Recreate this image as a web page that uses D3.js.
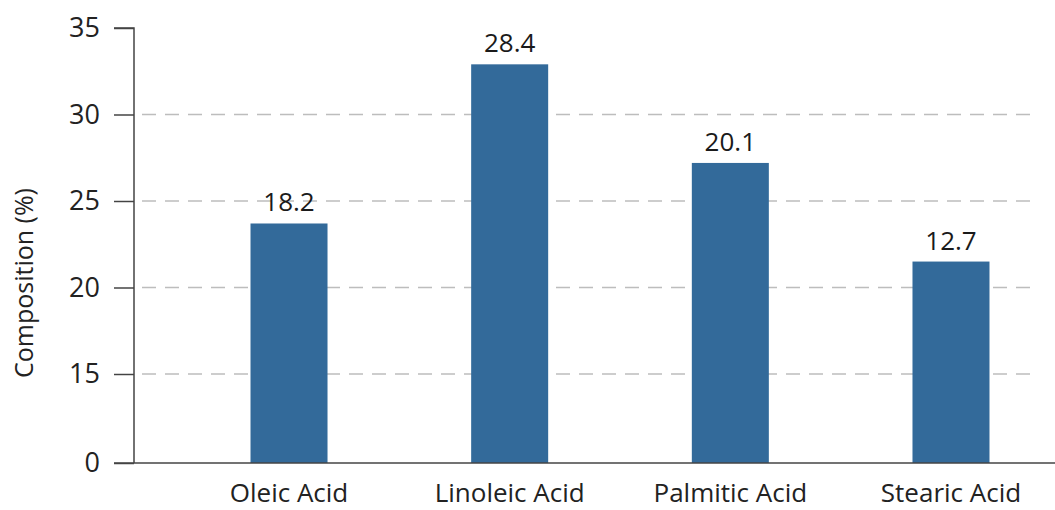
<!DOCTYPE html>
<html><head><meta charset="utf-8">
<script src="https://cdn.jsdelivr.net/npm/d3@7"></script>
<style>body{margin:0;background:#fff}svg{display:block}text{font-family:"Open Sans",sans-serif}</style>
</head><body><svg id="c" width="1055" height="510"></svg>
<script>
const categories = ["Oleic Acid", "Linoleic Acid", "Palmitic Acid", "Stearic Acid"];
const barHeights = [23.7, 32.9, 27.2, 21.5];   // bar heights as drawn against the axis
const valueLabels = ["18.2", "28.4", "20.1", "12.7"];
const yTicks = [0, 15, 20, 25, 30, 35];
const gridTicks = [15, 20, 25, 30];

const svg = d3.select("#c");
const y = d3.scaleLinear().domain([0, 15, 35]).range([463, 374, 28]);
const x = d3.scaleBand().domain(categories).range([134, 1106]).paddingInner(0.651).paddingOuter(0.528);

// gridlines
svg.append("g").selectAll("line").data(gridTicks).join("line")
  .attr("x1", 142).attr("x2", 1030)
  .attr("y1", d => y(d)).attr("y2", d => y(d))
  .attr("stroke", "#bdbdbd").attr("stroke-width", 1.3).attr("stroke-dasharray", "14,9");

// bars
svg.append("g").selectAll("rect").data(categories).join("rect")
  .attr("x", d => x(d)).attr("width", x.bandwidth())
  .attr("y", (d, i) => y(barHeights[i]))
  .attr("height", (d, i) => y(0) - y(barHeights[i]))
  .attr("fill", "#336a9a");

// value labels
svg.append("g").selectAll("text").data(categories).join("text")
  .attr("x", d => x(d) + x.bandwidth() / 2)
  .attr("y", (d, i) => y(barHeights[i]) - 12)
  .attr("text-anchor", "middle").attr("font-size", 26).attr("fill", "#1a1a1a")
  .text((d, i) => valueLabels[i]);

// y axis
const yAxis = svg.append("g").attr("transform", "translate(134,0)")
  .call(d3.axisLeft(y).tickValues(yTicks).tickSize(20).tickPadding(14).tickFormat(d3.format("d")));
yAxis.select(".domain").attr("d", `M-20,${y(35)}H0V${y(0)}`).attr("stroke", "#444").attr("stroke-width", 1.5);
yAxis.selectAll(".tick line").attr("stroke", "#444").attr("stroke-width", 1.5);
yAxis.selectAll(".tick text").attr("font-size", 27).attr("fill", "#222").attr("font-family", "Open Sans, sans-serif");

// x axis
const xAxis = svg.append("g").attr("transform", `translate(0,${y(0)})`)
  .call(d3.axisBottom(x).tickSize(0).tickPadding(21));
xAxis.select(".domain").attr("d", "M114,0H1055").attr("stroke", "#444").attr("stroke-width", 1.5);
xAxis.selectAll(".tick text").attr("font-size", 26).attr("fill", "#222").attr("font-family", "Open Sans, sans-serif");

// y title
svg.append("text").attr("transform", "translate(33,283) rotate(-90)")
  .attr("text-anchor", "middle").attr("font-size", 25).attr("fill", "#222")
  .text("Composition (%)");
</script></body></html>
